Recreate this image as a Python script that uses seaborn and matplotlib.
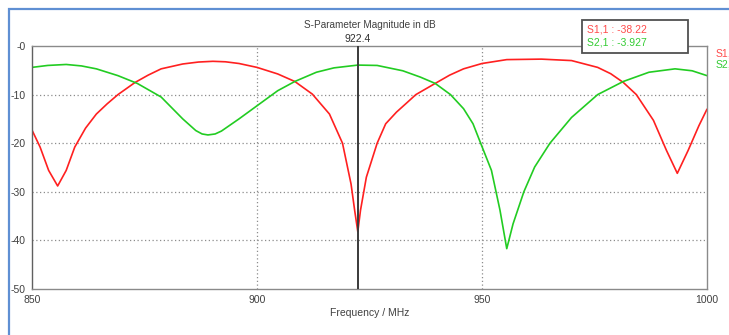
import matplotlib
matplotlib.use("Agg")
import matplotlib.pyplot as plt
import seaborn as sns
import pandas as pd
from matplotlib.patches import Rectangle

# ---- data ----
freq_s11 = [850, 851.8, 853.7, 855.7, 857.6, 859.5, 861.9, 864.3, 866.7, 869.1, 872.9,
            875.8, 878.7, 883.5, 887, 890.2, 893, 896, 900, 904.6, 908.4, 912.3, 916.1,
            919, 920.9, 921.7, 922.4, 923, 924.3, 926.7, 928.6, 931, 933.4, 935.3,
            939.6, 942.8, 945.9, 950, 955.5, 963.2, 969.9, 975.7, 978.6, 981.4, 984.3,
            988.1, 991, 993.4, 995.8, 998.2, 1000]
s11_db = [-17.3, -20.8, -25.6, -28.8, -25.6, -20.8, -16.9, -14.0, -11.9, -10.0, -7.5,
          -6.0, -4.7, -3.7, -3.3, -3.15, -3.25, -3.6, -4.4, -5.75, -7.3, -9.9, -14.0,
          -20.0, -28.4, -33.8, -38.22, -33.8, -27.0, -20.0, -16.0, -13.6, -11.6, -10.0,
          -7.7, -6.0, -4.7, -3.6, -2.8, -2.7, -3.0, -4.4, -5.7, -7.5, -10.0,
          -15.3, -21.5, -26.2, -21.5, -16.4, -13.0]

freq_s21 = [850, 853.5, 857.6, 861, 864.3, 869.1, 873.4, 878.7, 883.5, 886.4, 887.8,
            889.1, 890.7, 892.1, 896, 900, 904.6, 908.4, 913.2, 917.1, 922.4, 926.7,
            932.4, 936.3, 939.6, 943, 945.9, 948, 949.7, 952.1, 954, 955.5, 956.9,
            959.3, 961.7, 965.1, 969.9, 975.7, 981.4, 987.1, 992.9, 996.7, 1000]
s21_db = [-4.4, -4.0, -3.8, -4.1, -4.7, -6.1, -7.7, -10.5, -15.0, -17.4, -18.1, -18.3,
          -18.1, -17.5, -15.0, -12.3, -9.2, -7.3, -5.4, -4.5, -3.927, -4.0, -5.1, -6.4,
          -7.7, -10.0, -12.9, -16.0, -20.0, -25.6, -33.8, -41.7, -36.6, -30.0, -24.9,
          -20.0, -14.7, -10.0, -7.3, -5.4, -4.7, -5.1, -6.1]

series_names = ["S1,1", "S2,1"]
series_colors = ["#ff2020", "#22cc22"]
text_colors = ["#ff4a4a", "#33cc33"]
marker_freq = 922.4
marker_values = ["-38.22", "-3.927"]
y_ticks = [0, -10, -20, -30, -40, -50]
y_ticklabels = ["-0", "-10", "-20", "-30", "-40", "-50"]
x_ticks = [850, 900, 950, 1000]
x_ticklabels = ["850", "900", "950", "1000"]
title = "S-Parameter Magnitude in dB"
xlabel = "Frequency / MHz"

df = pd.concat([
    pd.DataFrame({"freq": freq_s11, "db": s11_db, "trace": series_names[0]}),
    pd.DataFrame({"freq": freq_s21, "db": s21_db, "trace": series_names[1]}),
])

sns.set_style("white")
plt.rcParams["font.family"] = ["Liberation Sans", "DejaVu Sans"]

W, H = 729, 335
fig = plt.figure(figsize=(W / 100, H / 100), dpi=100)
ax = fig.add_axes([32 / W, 1 - 289 / H, (707 - 32) / W, (289 - 46) / H])

sns.lineplot(data=df, x="freq", y="db", hue="trace",
             palette=dict(zip(series_names, series_colors)),
             legend=False, linewidth=1.2, ax=ax)
for ln in ax.get_lines():
    ln.set_solid_joinstyle("round")

ax.set_xlim(850, 1000)
ax.set_ylim(-50, 0)
ax.set_yticks(y_ticks)
ax.set_yticklabels(y_ticklabels)
ax.set_xticks(x_ticks)
ax.set_xticklabels(x_ticklabels)
ax.set_xlabel(xlabel, fontsize=7.5, color="#404040", labelpad=2)
ax.set_ylabel("")
ax.tick_params(axis="both", which="both", direction="out", length=3.5, width=0.8,
               color="#808080", labelsize=7.5, labelcolor="#404040", pad=1)
for s in ax.spines.values():
    s.set_color("#8a8a8a")
    s.set_linewidth(1.0)
ax.spines["left"].set_color("#606060")

# dotted grid
for yv in [-10, -20, -30, -40]:
    ax.axhline(yv, color="#8c8c8c", linestyle=(0, (1, 2)), linewidth=0.9, zorder=0)
for xv in [900, 950]:
    ax.axvline(xv, color="#8c8c8c", linestyle=(0, (1, 2)), linewidth=0.9, zorder=0)

# marker line
ax.axvline(marker_freq, color="#3a3a3a", linewidth=1.4, zorder=5)
ax.text(marker_freq, 0.5, f"{marker_freq}", ha="center", va="bottom", fontsize=7.5,
        color="#303030")

ax.set_title(title, fontsize=7.2, color="#404040", pad=13)

# blue outer frame
fig.patches.append(Rectangle((9, -20), W + 20, H - 9 + 20, transform=None,
                             fill=False, edgecolor="#5f8fd3", linewidth=1.6))

# marker readout box
fig.patches.append(Rectangle((582, H - 53), 106, 33, transform=None,
                             facecolor="white", edgecolor="#505050", linewidth=1.3,
                             zorder=10))
fig.text(587 / W, 1 - 29.5 / H, f"{series_names[0]} : {marker_values[0]}",
         color=text_colors[0], fontsize=7.5, va="center", ha="left", zorder=11)
fig.text(587 / W, 1 - 42.5 / H, f"{series_names[1]} : {marker_values[1]}",
         color=text_colors[1], fontsize=7.5, va="center", ha="left", zorder=11)

# right legend (clipped by figure edge, as in the reference)
fig.text(716 / W, 1 - 53 / H, series_names[0], color=text_colors[0], fontsize=7.5,
         va="center", ha="left")
fig.text(716 / W, 1 - 64.5 / H, series_names[1], color=text_colors[1], fontsize=7.5,
         va="center", ha="left")

fig.savefig("out.png", dpi=100)
